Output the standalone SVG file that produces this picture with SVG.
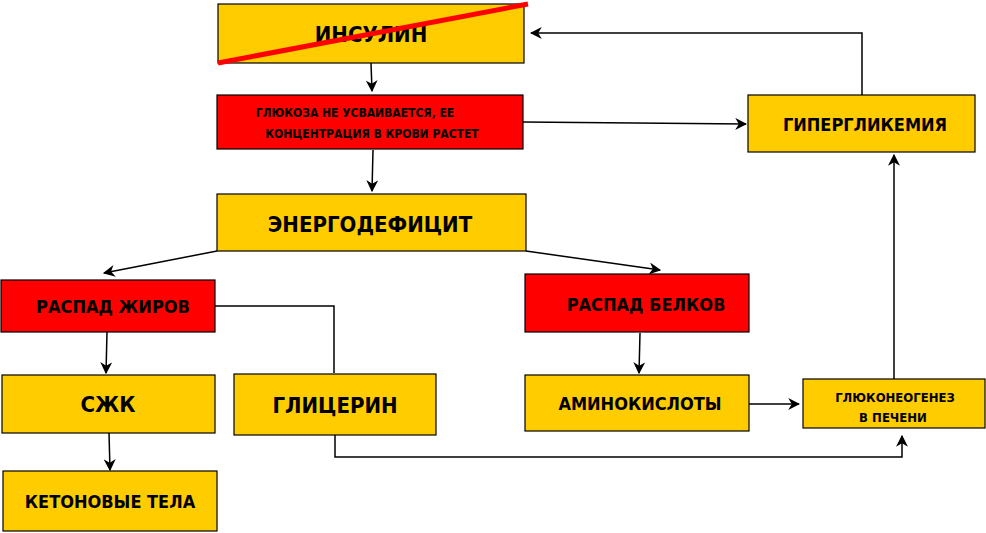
<svg xmlns="http://www.w3.org/2000/svg" width="986" height="533" viewBox="0 0 986 533">
<style>
.y{fill:#FFCC00;stroke:#000;stroke-width:1.2}
.r{fill:#FF0000;stroke:#000;stroke-width:1.2}
text{font-family:"DejaVu Sans Condensed","DejaVu Sans",sans-serif;font-weight:bold;fill:#000;text-anchor:middle;font-stretch:condensed}
.c{fill:none;stroke:#000;stroke-width:1.5}
</style>
<defs><marker id="a" viewBox="0 0 10 10" refX="9" refY="5" markerWidth="8" markerHeight="8" orient="auto"><path d="M0,0L10,5L0,10L3,5z" fill="#000"/></marker></defs>
<rect width="986" height="533" fill="#fff"/>
<g id="insulin"><rect class="y" x="218" y="4" width="306" height="59"/><text x="371" y="42" font-size="22">ИНСУЛИН</text><line x1="218" y1="63" x2="528" y2="4" stroke="#FF0000" stroke-width="5"/></g>
<g id="glucose"><rect class="r" x="217" y="95" width="306" height="54"/><text x="355" y="117" font-size="12">ГЛЮКОЗА НЕ УСВАИВАЕТСЯ,  ЕЕ</text><text x="372" y="138" font-size="12">КОНЦЕНТРАЦИЯ В КРОВИ РАСТЕТ</text></g>
<g id="hyper"><rect class="y" x="748" y="95" width="227" height="57"/><text x="865" y="131" font-size="18">ГИПЕРГЛИКЕМИЯ</text></g>
<g id="energy"><rect class="y" x="217" y="194" width="309" height="57"/><text x="370" y="232" font-size="22">ЭНЕРГОДЕФИЦИТ</text></g>
<g id="fat"><rect class="r" x="1" y="280" width="214" height="52"/><text x="113" y="313" font-size="18">РАСПАД ЖИРОВ</text></g>
<g id="protein"><rect class="r" x="525" y="274" width="224" height="58"/><text x="646" y="311" font-size="18">РАСПАД БЕЛКОВ</text></g>
<g id="szhk"><rect class="y" x="2" y="375" width="213" height="58"/><text x="108" y="412" font-size="22">СЖК</text></g>
<g id="glycerin"><rect class="y" x="234" y="374" width="202" height="61"/><text x="335" y="413" font-size="22">ГЛИЦЕРИН</text></g>
<g id="amino"><rect class="y" x="525" y="375" width="224" height="56"/><text x="640" y="410" font-size="18">АМИНОКИСЛОТЫ</text></g>
<g id="gng"><rect class="y" x="803" y="379" width="182" height="49"/><text x="895" y="402" font-size="13">ГЛЮКОНЕОГЕНЕЗ</text><text x="893" y="422" font-size="13">В ПЕЧЕНИ</text></g>
<g id="keto"><rect class="y" x="3" y="471" width="214" height="60"/><text x="110" y="508" font-size="18">КЕТОНОВЫЕ ТЕЛА</text></g>
<g id="connectors">
<path class="c" d="M371,63L372,91" marker-end="url(#a)"/>
<path class="c" d="M373,150L372,191" marker-end="url(#a)"/>
<path class="c" d="M523,122L746,124" marker-end="url(#a)"/>
<path class="c" d="M862,95V33H531" marker-end="url(#a)"/>
<path class="c" d="M217,251L104,273" marker-end="url(#a)"/>
<path class="c" d="M526,251L660,270" marker-end="url(#a)"/>
<path class="c" d="M215,306H334V373"/>
<path class="c" d="M107,332L106,373" marker-end="url(#a)"/>
<path class="c" d="M640,333L639,373" marker-end="url(#a)"/>
<path class="c" d="M109,433L110,470" marker-end="url(#a)"/>
<path class="c" d="M749,404H799" marker-end="url(#a)"/>
<path class="c" d="M335,435V457H902V436" marker-end="url(#a)"/>
<path class="c" d="M894,379V155" marker-end="url(#a)"/>
</g>
</svg>
